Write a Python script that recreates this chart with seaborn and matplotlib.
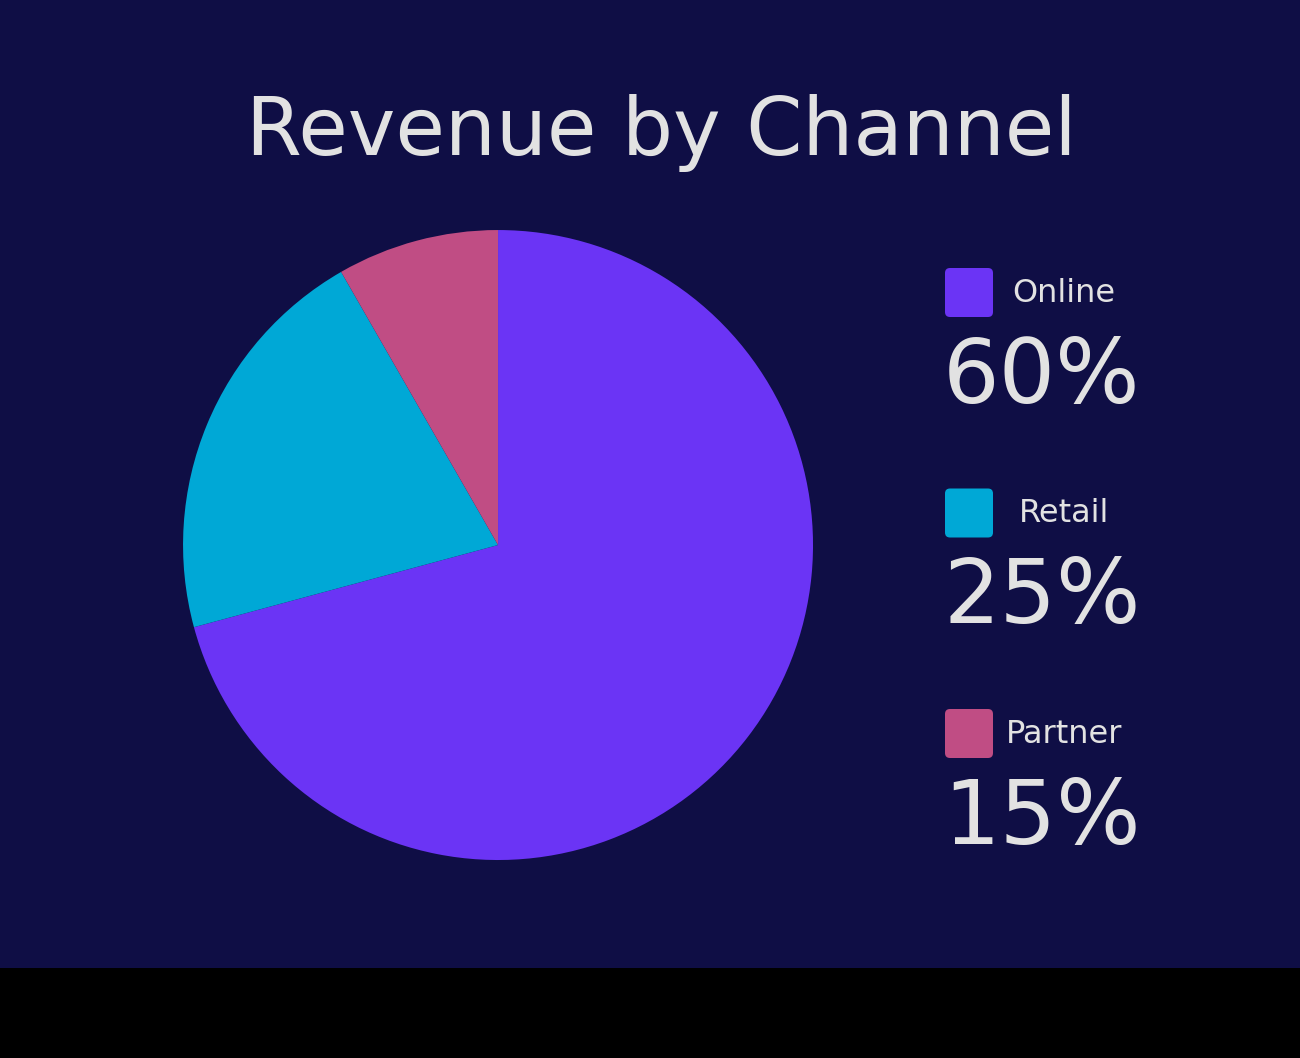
import matplotlib
matplotlib.use("Agg")
import matplotlib.pyplot as plt
from matplotlib.patches import FancyBboxPatch, Rectangle
import seaborn as sns

# Data
channels = ["Online", "Retail", "Partner"]
shown_pct = [60, 25, 15]          # numbers printed next to the legend
slice_share = [70.8, 20.9, 8.3]   # slice sizes as drawn in the picture
colors = ["#6b34f5", "#00a8d6", "#c04d84"]

bg = "#0f0e45"
txt = "#e2e2e2"

sns.set_theme(style="white")
plt.rcParams["font.family"] = ["DejaVu Sans"]

fig = plt.figure(figsize=(13, 10.58), dpi=100, facecolor=bg)

# overlay in pixel coords for the text / legend
over = fig.add_axes([0, 0, 1, 1])
over.set_xlim(0, 1300)
over.set_ylim(1058, 0)
over.axis("off")
over.set_facecolor(bg)
over.add_patch(Rectangle((0, 968), 1300, 90, color="black", lw=0))

over.text(661, 155, "Revenue by Channel", color=txt, fontsize=58,
          ha="center", va="baseline")

for i, (name, pct, col) in enumerate(zip(channels, shown_pct, colors)):
    y0 = 268 + i * 220.5
    over.add_patch(FancyBboxPatch((945, y0), 48, 49, boxstyle="round,pad=0,rounding_size=5",
                                  fc=col, ec="none"))
    over.text(1064, y0 + 34, name, color=txt, fontsize=23, ha="center", va="baseline")
    over.text(943, y0 + 135, f"{pct}%", color=txt, fontsize=64, ha="left", va="baseline")

# pie
ax = fig.add_axes([0.1408, 0.1871, 0.4846, 0.5955])
ax.pie(slice_share, colors=colors, startangle=90, counterclock=False,
       wedgeprops=dict(linewidth=0))
ax.set_xlim(-1, 1)
ax.set_ylim(-1, 1)
ax.set_aspect("equal")
ax.axis("off")

fig.savefig("out.png", dpi=100, facecolor=bg)
